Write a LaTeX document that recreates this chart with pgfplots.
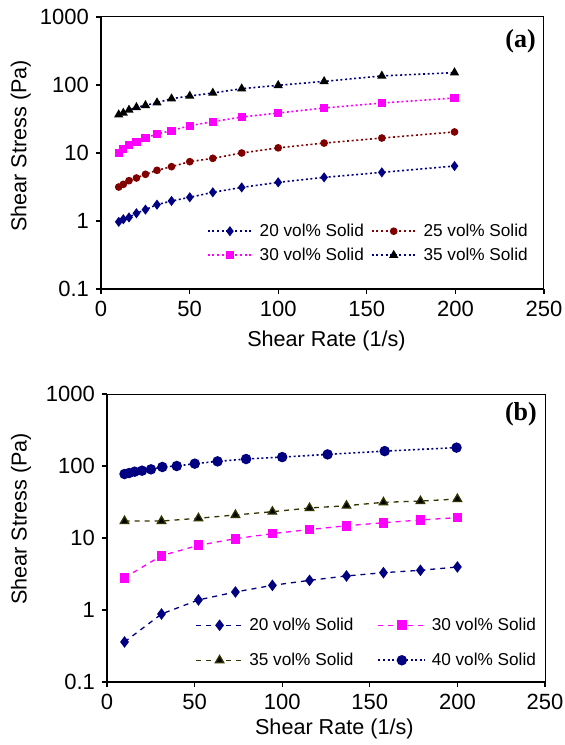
\documentclass[border=0pt]{standalone}
\usepackage{fontspec}
\setmainfont{Liberation Sans}
\newfontfamily\timesfont{Liberation Serif}
\usepackage{pgfplots}
\usepackage{pgfplotstable}
\pgfplotsset{compat=1.18}

\definecolor{navy}{RGB}{0,0,128}
\definecolor{maroon}{RGB}{128,0,0}
\definecolor{pinkmag}{RGB}{255,0,255}
\definecolor{olivedk}{RGB}{51,51,0}

% panel (a): shear rate, stresses for 20/25/30/35 vol%
\pgfplotstableread{
x      s20   s25   s30   s35
10     0.97  3.16  10.1  36.6
12.6   1.06  3.46  11.3  38.7
15.8   1.13  3.92  13.0  42.9
20     1.30  4.29  14.5  46.9
25.1   1.47  4.86  16.6  50.2
31.6   1.74  5.56  19.0  55.0
39.8   1.97  6.30  21.3  62.9
50.1   2.23  7.46  25.2  68.9
63.1   2.64  8.35  28.9  76.2
79.4   3.12  10.0  33.8  88.3
100    3.70  11.9  38.7  98.9
125.9  4.38  14.0  45.9  113
158.5  5.19  16.6  54.3  136
199.5  6.43  20.4  64.4  152
}\tabA

% panel (b)
\pgfplotstableread{
x      s20   s30   s35
10     0.36  2.81  17.2
31.1   0.88  5.68  17.2
52.2   1.38  7.91  18.8
73.3   1.78  9.79  20.9
94.4   2.20  11.5  23.2
115.6  2.58  13.1  26.1
136.7  2.97  14.8  28.1
157.8  3.30  16.3  31.3
178.9  3.56  17.8  32.6
200    3.96  19.2  34.8
}\tabB

\pgfplotstableread{
x      s40
10     77.4
12.6   79.9
15.8   83.4
20     86.1
25.1   89.9
31.6   96.9
39.8   100
50.1   107.8
63.1   116
79.4   125
100    133
125.9  145
158.5  161
199.5  180
}\tabC

\tikzset{
  dotline/.style={line width=0.8pt, dash pattern=on 1pt off 1.3pt},
  dashline/.style={line width=0.65pt, dash pattern=on 2.5pt off 2.5pt},
}

\begin{document}
\begin{tikzpicture}
\path[use as bounding box] (0,0) rectangle (282pt,372.5pt);

% ---- (a)
\begin{axis}[
  scale only axis, clip=false,
  at={(50.5pt,228pt)}, anchor=south west,
  width=221.5pt, height=136pt,
  ymode=log, xmin=0, xmax=250, ymin=0.1, ymax=1000,
  xtick={0,50,...,250},
  ytick={0.1,1,10,100,1000}, yticklabels={0.1,1,10,100,1000},
  yminorticks=false, tick align=outside,
  xtick pos=left, ytick pos=left, major tick length=2.5pt,
  axis line style={line width=0.5pt},
  tick style={black, line width=0.6pt},
  /pgf/number format/assume math mode=true,
  ticklabel style={font=\fontsize{11}{13}\selectfont},
  label style={font=\fontsize{10.8}{13}\selectfont},
  xlabel={Shear Rate (1/s)}, ylabel={Shear Stress (Pa)},
  xlabel style={at={(axis description cs:0.509,0)}, anchor=center, yshift=-26pt},
  ylabel style={at={(axis description cs:-0.181,0.526)}, anchor=center},
  legend columns=2, legend cell align=left,
  legend style={draw=none, fill=none, inner sep=0pt,
    font=\fontsize{8.6}{11}\selectfont,
    nodes={inner sep=1pt, text height=7.5pt, text depth=2.5pt},
    at={(rel axis cs:0.2386,0.258)}, anchor=north west,
    /tikz/every odd column/.append style={column sep=2.5pt},
    /tikz/every even column/.append style={column sep=2.5pt}},
  legend image code/.code={\draw[mark repeat=2,mark phase=2] plot coordinates {(0pt,0pt) (11pt,0pt) (22pt,0pt)};},
]
\addplot[navy, dotline, mark=diamond*, mark size=1.9pt, mark options={solid}] table[x=x,y=s20] {\tabA};
\addlegendentry{20 vol\% Solid}
\addplot[maroon, dotline, mark=*, mark size=1.5pt, mark options={solid}] table[x=x,y=s25] {\tabA};
\addlegendentry{25 vol\% Solid}
\addplot[pinkmag, dotline, mark=square*, mark size=1.65pt, mark options={solid}] table[x=x,y=s30] {\tabA};
\addlegendentry{30 vol\% Solid}
\addplot[navy, dotline, mark=triangle*, mark size=1.9pt, mark options={solid, black}] table[x=x,y=s35] {\tabA};
\addlegendentry{35 vol\% Solid}
\draw[line width=1pt] (rel axis cs:0,1) -- (rel axis cs:0,0) -- (rel axis cs:1,0);
\node[font=\timesfont\bfseries\fontsize{13}{13}\selectfont] at (rel axis cs:0.947,0.912) {(a)};
\end{axis}

% ---- (b)
\begin{axis}[
  scale only axis, clip=false,
  at={(53.5pt,31.5pt)}, anchor=south west,
  width=219pt, height=144pt,
  ymode=log, xmin=0, xmax=250, ymin=0.1, ymax=1000,
  xtick={0,50,...,250},
  ytick={0.1,1,10,100,1000}, yticklabels={0.1,1,10,100,1000},
  yminorticks=false, tick align=outside,
  xtick pos=left, ytick pos=left, major tick length=2.5pt,
  axis line style={line width=0.5pt},
  tick style={black, line width=0.6pt},
  /pgf/number format/assume math mode=true,
  ticklabel style={font=\fontsize{11}{13}\selectfont},
  label style={font=\fontsize{10.8}{13}\selectfont},
  xlabel={Shear Rate (1/s)}, ylabel={Shear Stress (Pa)},
  xlabel style={at={(axis description cs:0.519,0)}, anchor=center, yshift=-23.5pt},
  ylabel style={at={(axis description cs:-0.196,0.566)}, anchor=center},
  legend columns=2, legend cell align=left,
  legend style={draw=none, fill=none, inner sep=0pt,
    font=\fontsize{8.6}{11}\selectfont,
    nodes={inner sep=1pt, text height=7.5pt, text depth=2.5pt},
    at={(rel axis cs:0.201,0.240)}, anchor=north west, row sep=5.5pt,
    /tikz/every odd column/.append style={column sep=1.8pt},
    /tikz/every even column/.append style={column sep=11pt}},
  legend image code/.code={\draw[mark repeat=2,mark phase=2] plot coordinates {(0pt,0pt) (11.75pt,0pt) (23.5pt,0pt)};},
]
\addplot[navy, dashline, mark=diamond*, mark size=2.4pt, mark options={solid}] table[x=x,y=s20] {\tabB};
\addlegendentry{20 vol\% Solid}
\addplot[pinkmag, dashline, mark=square*, mark size=2.1pt, mark options={solid}] table[x=x,y=s30] {\tabB};
\addlegendentry{30 vol\% Solid}
\addplot[olivedk, dashline, mark=triangle*, mark size=2.4pt, mark options={solid, fill=black, draw=olivedk}] table[x=x,y=s35] {\tabB};
\addlegendentry{35 vol\% Solid}
\addplot[navy, dotline, mark=*, mark size=2.2pt, mark options={solid}] table[x=x,y=s40] {\tabC};
\addlegendentry{40 vol\% Solid}
\draw[line width=1pt] (rel axis cs:0,1) -- (rel axis cs:0,0) -- (rel axis cs:1,0);
\node[font=\timesfont\bfseries\fontsize{13}{13}\selectfont] at (rel axis cs:0.945,0.931) {(b)};
\end{axis}
\end{tikzpicture}
\end{document}
